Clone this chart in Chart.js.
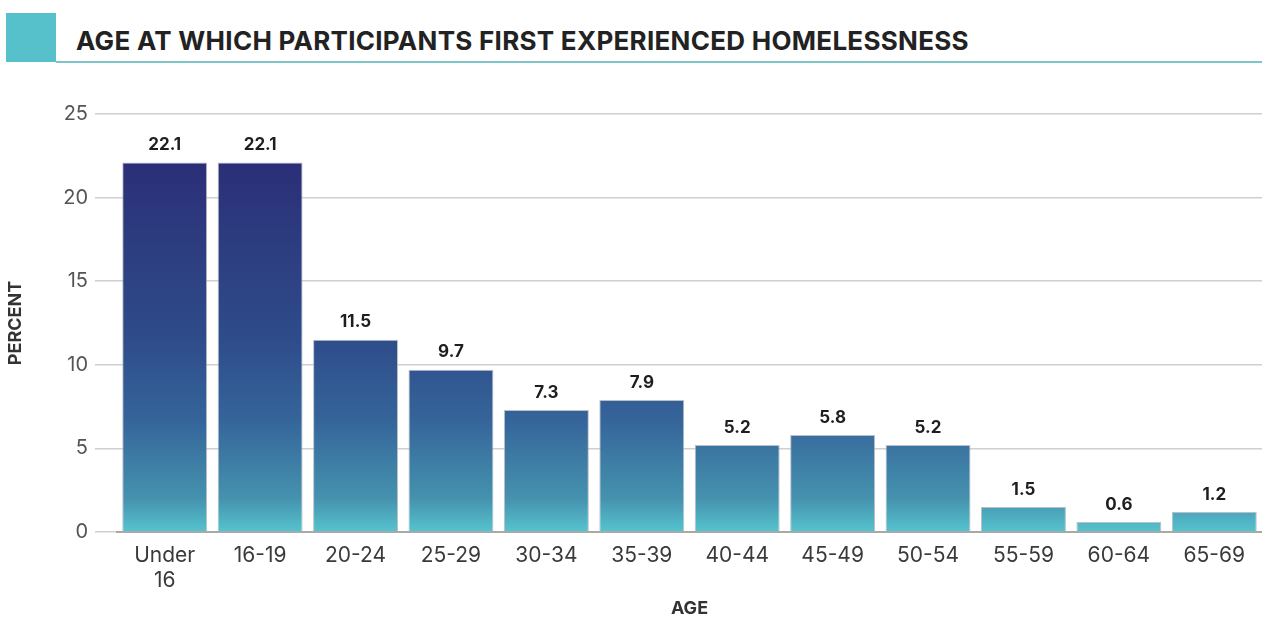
<!DOCTYPE html>
<html>
<head>
<meta charset="utf-8">
<script src="https://cdn.jsdelivr.net/npm/chart.js@4"></script>
<style>
  html, body { margin: 0; padding: 0; background: #fff; }
  #wrap { position: relative; width: 1262px; height: 619px; overflow: hidden; }
  #swatch { position: absolute; left: 6px; top: 13px; width: 50px; height: 49px; background: #56c1cb; }
  #rule { position: absolute; left: 56px; top: 61px; width: 1206px; height: 2px; background: #7fc6cc; }
  #title { position: absolute; left: 76px; top: 25px; font-family: Inter, "Open Sans", sans-serif; font-weight: 700; font-size: 26px; color: #222; white-space: nowrap; letter-spacing: 0.28px; }
  canvas { position: absolute; left: 0; top: 0; }
</style>
</head>
<body>
<div id="wrap">
  <div id="swatch"></div>
  <div id="rule"></div>
  <div id="title">AGE AT WHICH PARTICIPANTS FIRST EXPERIENCED HOMELESSNESS</div>
  <canvas id="c" width="1262" height="619"></canvas>
</div>
<script>
const categories = [['Under', '16'], '16-19', '20-24', '25-29', '30-34', '35-39', '40-44', '45-49', '50-54', '55-59', '60-64', '65-69'];
const percentValues = [22.1, 22.1, 11.5, 9.7, 7.3, 7.9, 5.2, 5.8, 5.2, 1.5, 0.6, 1.2];
const yTicks = [0, 5, 10, 15, 20, 25];

const FONT = 'Inter, "Open Sans", sans-serif';

function barGradient(ctx) {
  const chart = ctx.chart;
  const ca = chart.chartArea;
  if (!ca) return '#2e4c8a';
  const y = chart.scales.y;
  const y0 = y.getPixelForValue(0);
  const y25 = y.getPixelForValue(25);
  const g = chart.ctx.createLinearGradient(0, y0, 0, y25);
  g.addColorStop(0.0, '#56c4ce');
  g.addColorStop(0.08, '#4592ae');
  g.addColorStop(0.27, '#35649a');
  g.addColorStop(0.46, '#2e4c8a');
  g.addColorStop(0.88, '#2b2f77');
  g.addColorStop(1.0, '#2a2c72');
  return g;
}

const valueLabels = {
  id: 'valueLabels',
  afterDatasetsDraw(chart) {
    const ctx = chart.ctx;
    const meta = chart.getDatasetMeta(0);
    ctx.save();
    ctx.font = 'bold 17px ' + FONT;
    ctx.fillStyle = '#1e1e1e';
    ctx.textAlign = 'center';
    ctx.textBaseline = 'bottom';
    meta.data.forEach((bar, i) => {
      ctx.fillText(percentValues[i].toFixed(1), bar.x, bar.y - 9);
    });
    ctx.restore();
  }
};

new Chart(document.getElementById('c'), {
  type: 'bar',
  data: {
    labels: categories,
    datasets: [{
      data: percentValues,
      backgroundColor: barGradient,
      borderColor: 'rgba(170,175,185,0.8)',
      borderWidth: 1,
      categoryPercentage: 1.0,
      barPercentage: 0.89
    }]
  },
  options: {
    responsive: false,
    animation: false,
    devicePixelRatio: 1,
    layout: { padding: { top: 114, right: 0, bottom: 0, left: 5 } },
    plugins: { legend: { display: false }, tooltip: { enabled: false } },
    scales: {
      x: {
        grid: { display: false, drawTicks: false },
        border: { display: true, color: '#a9a9a9', width: 2 },
        ticks: { color: '#3a3a3a', font: { family: FONT, size: 21 }, padding: 11, maxRotation: 0, autoSkip: false, lineHeight: 1.05 },
        title: { display: true, text: 'AGE', color: '#333', font: { family: FONT, size: 18, weight: 'bold' }, padding: { top: 13, bottom: 0 } },
        afterFit(scale) { scale.height = 87; }
      },
      y: {
        min: 0, max: 25,
        afterBuildTicks(scale) { scale.ticks = yTicks.map(v => ({ value: v })); },
        grid: { color: '#cfcfcf', lineWidth: 1.5, drawTicks: true, tickLength: 22, tickColor: '#cfcfcf' },
        border: { display: false },
        ticks: { color: '#555', font: { family: FONT, size: 20 }, padding: 7 },
        title: { display: true, text: 'PERCENT', color: '#333', font: { family: FONT, size: 18, weight: 'bold' }, padding: { top: 0, bottom: 0 } },
        afterFit(scale) { scale.width = 112; }
      }
    }
  },
  plugins: [valueLabels]
});
</script>
</body>
</html>
